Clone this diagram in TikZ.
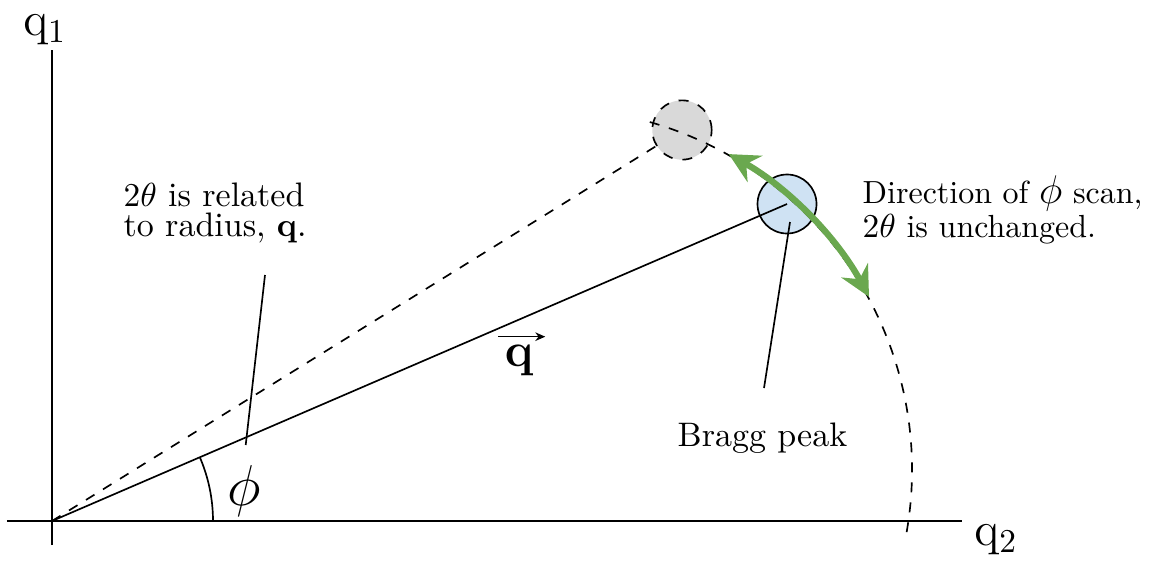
\documentclass[tikz,border=0pt]{standalone}
\usepackage{tikz}
\usetikzlibrary{arrows.meta}
\definecolor{peakblue}{HTML}{CFE2F3}
\definecolor{ghostgray}{HTML}{D9D9D9}
\definecolor{scangreen}{HTML}{6AA84F}

\begin{document}
\begin{tikzpicture}[x=0.3pt, y=0.3pt, font=\fontsize{10.2}{9}\selectfont]
\path[use as bounding box] (-52,-45) rectangle (1099,521);
\coordinate (O) at (0,0);
\coordinate (arcc) at (498,51);
\draw[line width=0.6pt] (-45,0) -- (910,0);
\draw[line width=0.6pt] (0,-24) -- (0,471);
\node[inner sep=0pt, font=\fontsize{14}{14}\selectfont] (qone) at (-7,491) {$\mathrm{q}_1$};
\node[inner sep=0pt, font=\fontsize{14}{14}\selectfont] (qtwo) at (944,-19) {$\mathrm{q}_2$};
\node[circle, draw, dashed, line width=0.5pt, fill=ghostgray, minimum size=17.8pt, inner sep=0pt] (ghost) at (630,391) {};
\node[circle, draw, line width=0.5pt, fill=peakblue, minimum size=17.7pt, inner sep=0pt] (peak) at (735,317) {};
\draw[dashed, line width=0.5pt] (O) -- (ghost);
\draw[line width=0.5pt] (O) -- (peak.center);
\draw[dashed, line width=0.5pt] ([shift={(74:362)}]arcc) arc[start angle=74, end angle=-10.3, radius=362];
\draw[line width=0.5pt] (161,0) arc[start angle=0, end angle=23.3, radius=161];
\node[inner sep=0pt, font=\fontsize{16}{16}\selectfont] (phi) at (192,30) {$\phi$};
\node[inner sep=0pt, font=\fontsize{13.5}{13}\selectfont] (qvec) at (467,161) {$\mathbf{q}$};
\draw[line width=0.4pt, -{Stealth[length=3pt,width=2.6pt]}] ([xshift=-1.8pt, yshift=2.2pt]qvec.north west) -- ([xshift=3.4pt, yshift=2.2pt]qvec.north east);
\node[inner sep=0pt, anchor=west, align=left] (radius) at (71,308) {$2\theta$ is related\\to radius, $\mathbf{q}$.};
\coordinate (radtop) at (213,246);
\coordinate (radbot) at (193.7,76);
\draw[line width=0.5pt] (radtop) -- (radbot);
\node[inner sep=0pt, anchor=west] (bragg) at (625,83) {Bragg peak};
\coordinate (braggtop) at (712,133);
\coordinate (braggend) at (738,299);
\draw[line width=0.5pt] (braggtop) -- (braggend);
\node[inner sep=0pt, anchor=west, align=left, font=\fontsize{9.6}{9}\selectfont] (scan) at (810,311) {Direction of {\fontsize{13}{9}\selectfont$\phi$} scan,\\$2\theta$ is unchanged.};
\draw[scangreen, line width=1.9pt, {Stealth[length=9pt,width=9pt,inset=3pt]}-{Stealth[length=9pt,width=9pt,inset=3pt]}] ([shift={(60.5:363)}]arcc) arc[start angle=60.5, end angle=28.5, radius=363];
\end{tikzpicture}
\end{document}
